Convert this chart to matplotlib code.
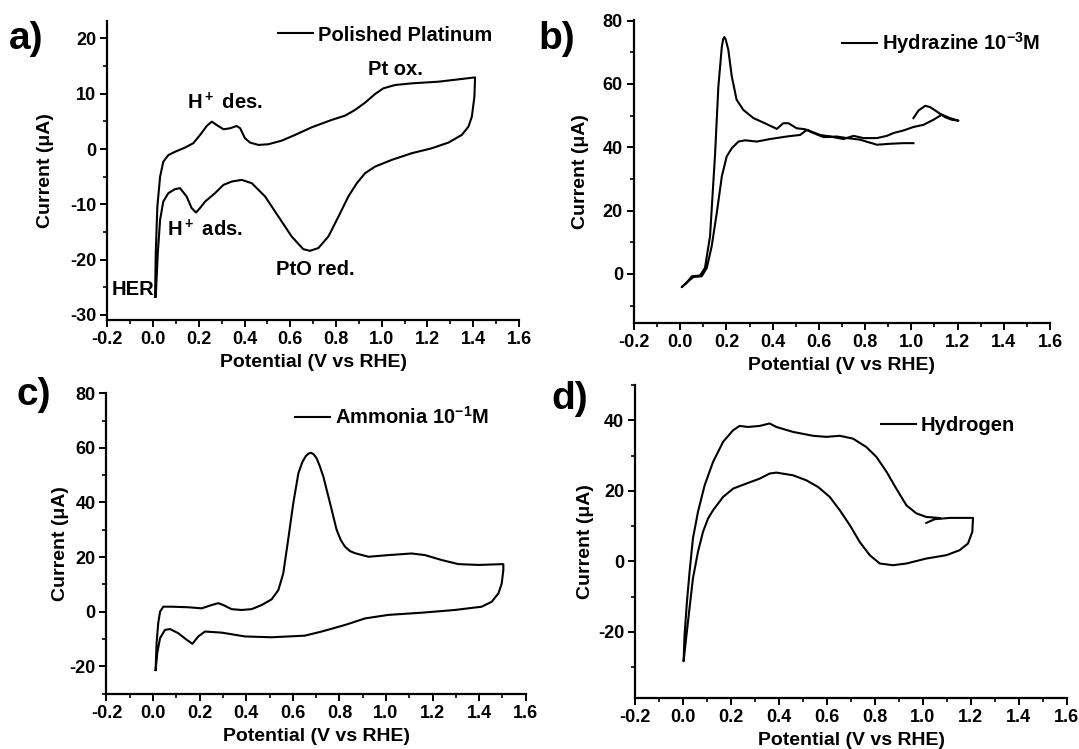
# Cyclic voltammograms on Pt: blank, hydrazine, ammonia, hydrogen
import matplotlib
matplotlib.use("Agg")
import matplotlib.pyplot as plt
from matplotlib.ticker import MultipleLocator

plt.rcParams["font.family"] = ["Liberation Sans", "DejaVu Sans"]
plt.rcParams["font.weight"] = "bold"
plt.rcParams["axes.unicode_minus"] = False
plt.rcParams["mathtext.fontset"] = "custom"
plt.rcParams["mathtext.rm"] = "Liberation Sans:bold"
plt.rcParams["mathtext.bf"] = "Liberation Sans:bold"
plt.rcParams["mathtext.default"] = "bf"

# a) polished platinum (V vs RHE, uA)
pt_v = [0.009, 0.012, 0.019, 0.031, 0.045, 0.067, 0.096, 0.14, 0.176, 0.206, 0.235, 0.257,
        0.278, 0.308, 0.337, 0.366, 0.381, 0.402, 0.424, 0.461, 0.504, 0.563, 0.621, 0.694,
        0.781, 0.84, 0.883, 0.927, 0.971, 1.007, 1.058, 1.131, 1.248, 1.335, 1.408,
        1.405, 1.394, 1.379, 1.35, 1.292, 1.219, 1.131, 1.044, 0.971, 0.927, 0.891, 0.854,
        0.811, 0.767, 0.723, 0.686, 0.657, 0.606, 0.548, 0.49, 0.432, 0.388, 0.344, 0.308,
        0.271, 0.228, 0.205, 0.188, 0.169, 0.147, 0.118, 0.096, 0.067, 0.045, 0.031, 0.021, 0.012]
pt_i = [-26.7, -18.8, -10.4, -5.0, -2.3, -1.1, -0.5, 0.26, 1.05, 2.55, 4.17, 4.95,
        4.35, 3.57, 3.75, 4.17, 3.75, 1.95, 1.17, 0.74, 0.86, 1.52, 2.55, 3.93,
        5.26, 6.04, 7.06, 8.38, 9.95, 10.97, 11.57, 11.87, 12.17, 12.59, 12.95,
        9.45, 5.86, 4.05, 2.55, 1.17, 0.14, -0.76, -1.96, -3.17, -4.37, -6.18, -8.58,
        -12.19, -15.8, -17.9, -18.4, -18.1, -15.8, -12.19, -8.58, -6.18, -5.58, -5.88, -6.48,
        -7.98, -9.49, -10.69, -11.47, -10.69, -8.58, -7.07, -7.26, -7.98, -9.49, -12.8, -18.8, -26.7]

# b) hydrazine 1e-3 M
hz_v = [1.009, 1.031, 1.06, 1.081, 1.11, 1.146, 1.175, 1.204, 1.168, 1.132, 1.096, 1.053,
        1.009, 0.966, 0.923, 0.894, 0.851, 0.793, 0.75, 0.706, 0.648, 0.605, 0.548, 0.519,
        0.461, 0.389, 0.331, 0.281, 0.252, 0.223, 0.201, 0.18, 0.158, 0.136, 0.115, 0.093,
        0.057, 0.035, 0.006, 0.028, 0.05, 0.086, 0.107, 0.129, 0.151, 0.165, 0.18, 0.186,
        0.191, 0.197, 0.208, 0.223, 0.244, 0.273, 0.317, 0.36, 0.389, 0.418, 0.446, 0.468,
        0.504, 0.54, 0.576, 0.62, 0.677, 0.721, 0.778, 0.851, 0.908, 0.966, 1.009]
hz_i = [49.2, 51.6, 53.1, 52.7, 51.3, 49.5, 48.7, 48.4, 49.2, 50.3, 48.7, 47.1,
        46.4, 45.3, 44.5, 43.6, 42.9, 42.9, 43.6, 42.6, 43.4, 43.9, 45.5, 43.9,
        43.4, 42.6, 41.8, 42.2, 41.8, 39.7, 37.1, 30.8, 19.2, 8.7, 1.9, -0.75,
        -1.0, -2.3, -4.2, -2.8, -0.75, -0.5, 1.9, 11.9, 38.2, 59.2, 71.8, 74.2,
        74.8, 74.0, 70.8, 62.4, 55.0, 51.8, 49.2, 47.8, 46.8, 45.8, 47.6, 47.6,
        46.0, 45.7, 44.5, 43.2, 43.4, 42.9, 42.4, 40.8, 41.1, 41.3, 41.3]

# c) ammonia 1e-1 M
am_v = [0.011, 0.015, 0.022, 0.03, 0.044, 0.08, 0.151, 0.209, 0.251, 0.28, 0.302, 0.337,
        0.38, 0.423, 0.466, 0.509, 0.538, 0.559, 0.58, 0.602, 0.624, 0.641, 0.656, 0.668,
        0.678, 0.69, 0.702, 0.715, 0.731, 0.76, 0.788, 0.806, 0.824, 0.845, 0.867, 0.925,
        1.01, 1.11, 1.168, 1.239, 1.311, 1.397, 1.504, 1.504, 1.497, 1.483, 1.454, 1.411,
        1.296, 1.153, 1.01, 0.91, 0.824, 0.724, 0.652, 0.509, 0.395, 0.295, 0.223, 0.194,
        0.169, 0.144, 0.108, 0.073, 0.051, 0.03, 0.018, 0.011]
am_i = [-21.4, -11.6, -4.3, 0.0, 1.8, 1.8, 1.6, 1.2, 2.4, 3.1, 2.4, 0.9,
        0.6, 0.9, 2.4, 4.5, 7.9, 14.0, 26.3, 39.7, 50.7, 54.8, 57.0, 57.9,
        58.2, 57.6, 56.2, 53.5, 49.5, 39.7, 30.0, 26.2, 23.8, 22.2, 21.4, 20.1,
        20.7, 21.3, 20.7, 18.9, 17.4, 17.1, 17.4, 15.2, 10.3, 6.7, 3.6, 1.8,
        0.6, -0.4, -1.2, -2.5, -4.9, -7.3, -8.8, -9.4, -9.1, -7.7, -7.3, -9.1,
        -11.8, -10.3, -7.9, -6.4, -6.7, -9.7, -15.2, -21.4]

# d) hydrogen
h2_v = [1.014, 1.049, 1.112, 1.209, 1.206, 1.188, 1.153, 1.098, 1.014, 0.931, 0.875, 0.82,
        0.778, 0.736, 0.695, 0.653, 0.611, 0.562, 0.513, 0.458, 0.388, 0.36, 0.319, 0.263,
        0.208, 0.166, 0.124, 0.103, 0.082, 0.061, 0.04, 0.024, 0.01, 0.001,
        0.005, 0.015, 0.026, 0.04, 0.061, 0.089, 0.124, 0.166, 0.208, 0.235, 0.27, 0.319,
        0.36, 0.388, 0.458, 0.541, 0.597, 0.653, 0.708, 0.764, 0.806, 0.848, 0.889, 0.931,
        0.973, 1.014, 1.07]
h2_i = [10.9, 11.96, 12.33, 12.33, 8.37, 5.07, 3.17, 1.76, 0.81, -0.6, -1.08, -0.6,
        1.76, 5.53, 10.25, 14.5, 18.28, 21.11, 23.0, 24.4, 25.17, 24.9, 23.47, 22.06,
        20.64, 18.28, 14.5, 12.14, 8.37, 2.7, -4.85, -14.3, -22.8, -28.3,
        -20.9, -11.46, -2.97, 6.48, 14.03, 21.6, 28.2, 33.9, 37.2, 38.4, 38.1, 38.4,
        39.1, 38.1, 36.7, 35.6, 35.3, 35.6, 34.8, 32.4, 29.6, 25.4, 20.6, 15.9,
        13.6, 12.6, 12.3]

panels = [
    ("a)", pt_v, pt_i, "Polished Platinum", (-30.9, 23.2), 10, 5, (0.415, 0.952)),
    ("b)", hz_v, hz_i, r"Hydrazine 10$^{-3}$M", (-15.5, 80.2), 20, 10, (0.50, 0.924)),
    ("c)", am_v, am_i, r"Ammonia 10$^{-1}$M", (-30.3, 80.2), 20, 10, (0.45, 0.919)),
    ("d)", h2_v, h2_i, "Hydrogen", (-38.8, 50.0), 20, 10, (0.569, 0.872)),
]
rects = [
    [0.0994, 0.5728, 0.3816, 0.3996],
    [0.5876, 0.5688, 0.3855, 0.4045],
    [0.0987, 0.0730, 0.3885, 0.4027],
    [0.5889, 0.0677, 0.3997, 0.4183],
]
tags_xy = [(0.008, 0.948), (0.499, 0.948), (0.015, 0.472), (0.511, 0.467)]
ylab_x = [0.050, 0.546, 0.064, 0.5505]

fig = plt.figure(figsize=(10.79, 7.49), dpi=100)

for (tag, v, i, name, ylim, ymaj, ymin, leg_xy), r, txy, yx in zip(panels, rects, tags_xy, ylab_x):
    ax = fig.add_axes(r)
    ax.plot(v, i, color="black", lw=1.5, label=name)
    ax.set_xlim(-0.2, 1.6)
    ax.set_ylim(*ylim)
    ax.xaxis.set_major_locator(MultipleLocator(0.2))
    ax.xaxis.set_minor_locator(MultipleLocator(0.1))
    ax.yaxis.set_major_locator(MultipleLocator(ymaj))
    ax.yaxis.set_minor_locator(MultipleLocator(ymin))
    ax.xaxis.set_major_formatter(plt.FuncFormatter(lambda x, p: f"{x:.1f}"))
    for s in ["top", "right"]:
        ax.spines[s].set_visible(False)
    for s in ["left", "bottom"]:
        ax.spines[s].set_linewidth(1.6)
    ax.tick_params(which="major", direction="out", length=5, width=1.4, labelsize=13, pad=3)
    ax.tick_params(which="minor", direction="out", length=3, width=1.2)
    for lbl in ax.get_xticklabels() + ax.get_yticklabels():
        lbl.set_fontweight("bold")
    ax.set_xlabel("Potential (V vs RHE)", fontsize=14, fontweight="bold", labelpad=4)
    ax.set_ylabel("Current (μA)", fontsize=14, fontweight="bold")
    ax.yaxis.set_label_coords(yx, r[1] + r[3] / 2, transform=fig.transFigure)
    ax.legend(loc="center left", bbox_to_anchor=leg_xy, frameon=False, borderpad=0,
              borderaxespad=0, handlelength=1.75, handletextpad=0.25,
              prop={"size": 14.5, "weight": "bold"})
    fig.text(txy[0], txy[1], tag, fontsize=28, fontweight="bold", va="center", ha="left")

    if tag == "a)":
        ax.text(1.058, 14.3, "Pt ox.", fontsize=14.5, fontweight="bold", ha="center", va="center")
        ax.text(0.315, 8.3, r"H$^+$ des.", fontsize=14.5, fontweight="bold", ha="center", va="center")
        ax.text(0.227, -14.6, r"H$^+$ ads.", fontsize=14.5, fontweight="bold", ha="center", va="center")
        ax.text(0.708, -21.8, "PtO red.", fontsize=14.5, fontweight="bold", ha="center", va="center")
        ax.text(-0.182, -25.4, "HER", fontsize=14.5, fontweight="bold", ha="left", va="center")

fig.savefig("out.png", dpi=100)
